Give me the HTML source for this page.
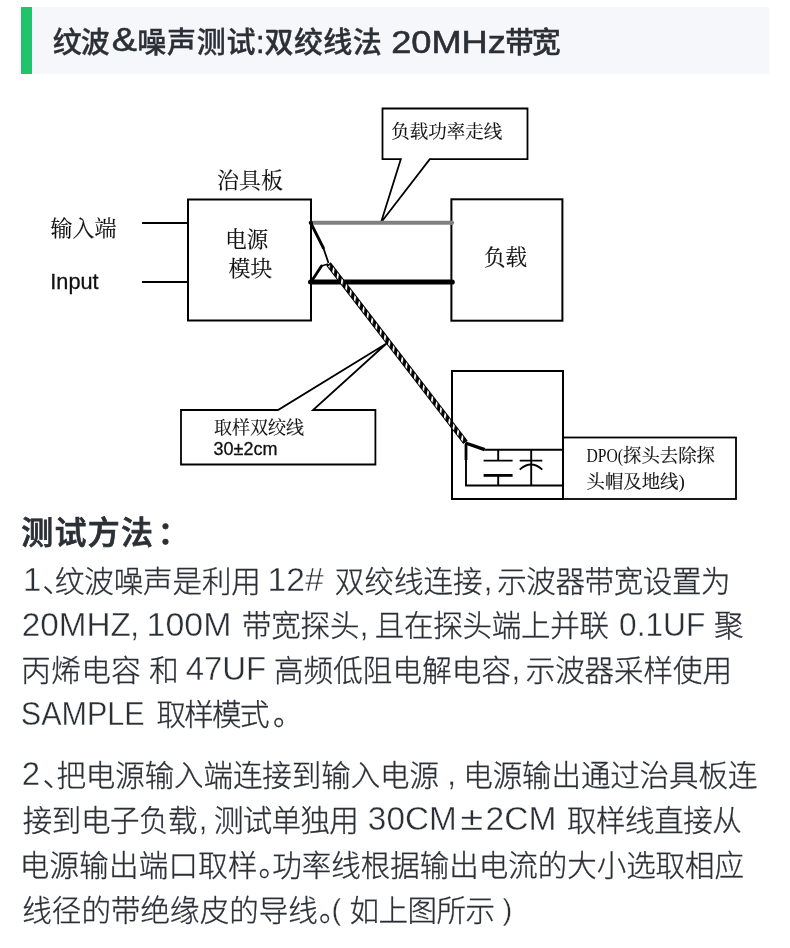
<!DOCTYPE html>
<html lang="zh-CN">
<head>
<meta charset="utf-8">
<title>纹波&amp;噪声测试</title>
<style>
html,body{margin:0;padding:0;background:#fff;}
body{width:790px;height:948px;position:relative;overflow:hidden;font-family:"Liberation Sans","Noto Sans CJK SC",sans-serif;}
#hdr{position:absolute;left:21px;top:6.9px;width:747.7px;height:67.4px;background:#f5f7fa;}
#hdr .bar{position:absolute;left:0;top:0;width:10.6px;height:67.4px;background:#21c46c;}
svg{position:absolute;left:0;top:0;will-change:transform;}
.sg{font-family:"Liberation Serif","Noto Serif CJK SC",serif;fill:#111;font-weight:400;stroke:#111;stroke-width:0.15px;}
.sa{font-family:"Liberation Sans","Noto Sans CJK SC",sans-serif;fill:#111;stroke:#111;stroke-width:0.3px;}
#txt text{font-family:"Liberation Sans","Noto Sans CJK SC",sans-serif;white-space:pre;}
.tt{font-size:29px;font-weight:500;fill:#2b2f36;stroke:#2b2f36;stroke-width:0.35px;}
.tt .l{font-size:30.7px;font-weight:400;stroke:#2b2f36;stroke-width:0.55px;}
.hh{font-size:32px;font-weight:500;fill:#2b2f36;stroke:#2b2f36;stroke-width:0.75px;}
.bb{font-size:29.5px;font-weight:300;fill:#2b2f36;stroke:#2b2f36;stroke-width:0.3px;}
.bb .l{font-size:33px;font-weight:400;stroke:#fff;stroke-width:0.4px;}
.bb .q{font-size:29.5px;}
.tt .amp{font-size:33px;}
</style>
</head>
<body>
<div id="hdr"><div class="bar"></div></div>
<svg id="dia" width="790" height="948" viewBox="0 0 790 948">
<defs>
<pattern id="rope" patternUnits="userSpaceOnUse" width="5.2" height="10" patternTransform="rotate(10)">
<rect x="0" y="0" width="5.2" height="10" fill="#000"/>
<rect x="0" y="0" width="1.9" height="10" fill="#fff"/>
</pattern>
</defs>
<g fill="none" stroke="#000" stroke-width="2">
<rect x="188" y="199.5" width="123" height="121"/>
<rect x="451.4" y="199.3" width="111" height="121.4"/>
<line x1="142" y1="223" x2="188" y2="223"/>
<line x1="142" y1="282" x2="188" y2="282"/>
<path d="M382.5 108.5 H527.5 V159.2 H429.8 L381 222.5 L400.8 159.2 H382.5 Z" stroke-width="1.8"/>
<path d="M181 410 H278 L386.5 343.5 L313 410 H375.4 V464.5 H181 Z" stroke-width="1.8"/>
<rect x="452" y="371" width="111" height="128"/>
<rect x="563" y="437.5" width="173" height="61.5" stroke-width="1.8"/>
<path d="M484.5 449.7 H563 M466 443 V485.5 H563" stroke-width="1.9"/>
<path d="M498.2 449.7 V460.6 M498.2 475.4 V485.5 M531.2 449.7 V485.5" stroke-width="1.9"/>
<path d="M483.6 460.6 H512.6 M519.7 460.6 H542.3" stroke-width="1.8"/>
<path d="M483.6 475.4 H512.6" stroke-width="2.8"/>
<path d="M519.7 469.6 Q531 459.5 542.3 469.6" stroke-width="1.9"/>
<path d="M466 444 V460" stroke-width="2.8"/>
<path d="M465.5 443 L484.7 449.7" stroke-width="3.4"/>
</g>
<line x1="311" y1="222.8" x2="452" y2="222.8" stroke="#808080" stroke-width="4.1"/>
<line x1="311" y1="282" x2="452" y2="282" stroke="#000" stroke-width="5.2"/>
<circle cx="310.8" cy="222.8" r="2.1" fill="#000"/>
<circle cx="310.5" cy="282" r="2.5" fill="#000"/>
<circle cx="452.2" cy="282" r="2.6" fill="#000"/><circle cx="452.2" cy="222.8" r="2" fill="#808080"/>
<path d="M310.8 223 L323.4 248" stroke="#000" stroke-width="2.8" fill="none" stroke-linecap="round"/>
<path d="M323.4 248 L328.5 263" stroke="#000" stroke-width="1.8" fill="none"/>
<path d="M311 282 L321.5 266" stroke="#000" stroke-width="2.8" fill="none" stroke-linecap="round"/>
<path d="M321.5 266 L328 264" stroke="#000" stroke-width="1.6" fill="none"/>
<line x1="328.5" y1="264" x2="465.5" y2="442.4" stroke="#000" stroke-width="5.6"/>
<line x1="329.5" y1="265.3" x2="464.5" y2="441.1" stroke="url(#rope)" stroke-width="3.6"/>
<text class="sg" x="391.2" y="138.2" font-size="18.5">负载功率走线</text>
<text class="sg" x="217" y="187.8" font-size="22">治具板</text>
<text class="sg" x="50.5" y="235.5" font-size="22">输入端</text>
<text class="sa" x="50.3" y="289.3" font-size="21.7">Input</text>
<text class="sg" x="225.3" y="247" font-size="21.5">电源</text>
<text class="sg" x="228.6" y="276" font-size="21.8">模块</text>
<text class="sg" x="484" y="264.5" font-size="21.5">负载</text>
<text class="sg" x="214" y="433.5" font-size="18">取样双绞线</text>
<text class="sa" x="213.5" y="454.5" font-size="18">30±2cm</text>
<text class="sg" x="586.5" y="461.5" font-size="18.4"><tspan font-family="'Liberation Serif',serif" font-size="19" stroke="none" textLength="36.5" lengthAdjust="spacingAndGlyphs">DPO(</tspan>探头去除探</text>
<text class="sg" x="586.5" y="487.5" font-size="18.4">头帽及地线<tspan font-family="'Liberation Serif',serif" font-size="19" stroke="none">)</tspan></text>
</svg>
<svg id="txt" width="790" height="948" viewBox="0 0 790 948">
<text class="tt"><tspan id="T_0" x="52.78" y="52.60" textLength="56.93" lengthAdjust="spacing">纹波</tspan><tspan id="T_1" x="111.85" y="50.60" class="l amp" textLength="25.12" lengthAdjust="spacingAndGlyphs">&amp;</tspan><tspan id="T_2" x="137.23" y="52.60" textLength="118.41" lengthAdjust="spacing">噪声测试</tspan><tspan id="T_3" x="256.07" y="52.60" class="l">:</tspan><tspan id="T_4" x="264.54" y="52.60" textLength="117.25" lengthAdjust="spacing">双绞线法</tspan><tspan id="T_5" x="391.17" y="52.60" class="l" textLength="114.74" lengthAdjust="spacingAndGlyphs">20MHz</tspan><tspan id="T_6" x="505.00" y="52.60" textLength="55.69" lengthAdjust="spacing">带宽</tspan></text>
<text class="hh"><tspan id="H_0" x="21.28" y="544.00" textLength="131.74" lengthAdjust="spacing">测试方法</tspan><tspan id="H_1" x="157.40" y="544.00">：</tspan></text>
<text class="bb"><tspan id="L0_0" x="22.94" y="591.00" class="l">1</tspan><tspan id="L0_1" x="42.39" y="591.60">、</tspan><tspan id="L0_2" x="54.89" y="591.60" textLength="205.93" lengthAdjust="spacing">纹波噪声是利用</tspan><tspan id="L0_3" x="267.46" y="591.00" class="l" textLength="56.18" lengthAdjust="spacingAndGlyphs">12#</tspan><tspan id="L0_4" x="334.85" y="591.60" textLength="147.67" lengthAdjust="spacing">双绞线连接</tspan><tspan id="L0_5" x="483.59" y="591.00" class="l">,</tspan><tspan id="L0_6" x="497.19" y="591.60" textLength="233.36" lengthAdjust="spacing">示波器带宽设置为</tspan></text>
<text class="bb"><tspan id="L1_0" x="21.77" y="635.60" class="l" textLength="109.21" lengthAdjust="spacingAndGlyphs">20MHZ</tspan><tspan id="L1_1" x="129.95" y="635.60" class="l">,</tspan><tspan id="L1_2" x="146.57" y="635.60" class="l" textLength="84.99" lengthAdjust="spacingAndGlyphs">100M</tspan><tspan id="L1_3" x="242.00" y="636.20" textLength="117.40" lengthAdjust="spacing">带宽探头</tspan><tspan id="L1_4" x="359.40" y="635.60" class="l">,</tspan><tspan id="L1_5" x="374.66" y="636.20" textLength="234.44" lengthAdjust="spacing">且在探头端上并联</tspan><tspan id="L1_6" x="619.07" y="635.60" class="l" textLength="86.30" lengthAdjust="spacingAndGlyphs">0.1UF</tspan><tspan id="L1_7" x="713.88" y="636.20">聚</tspan></text>
<text class="bb"><tspan id="L2_0" x="21.14" y="680.80" textLength="119.54" lengthAdjust="spacing">丙烯电容</tspan><tspan id="L2_1" x="149.34" y="680.80">和</tspan><tspan id="L2_2" x="185.63" y="680.20" class="l" textLength="80.48" lengthAdjust="spacingAndGlyphs">47UF</tspan><tspan id="L2_3" x="273.89" y="680.80" textLength="237.05" lengthAdjust="spacing">高频低阻电解电容</tspan><tspan id="L2_4" x="511.24" y="680.20" class="l">,</tspan><tspan id="L2_5" x="525.67" y="680.80" textLength="206.28" lengthAdjust="spacing">示波器采样使用</tspan></text>
<text class="bb"><tspan id="L3_0" x="20.81" y="724.80" class="l" textLength="123.94" lengthAdjust="spacingAndGlyphs">SAMPLE</tspan><tspan id="L3_1" x="156.38" y="725.40" textLength="113.03" lengthAdjust="spacing">取样模式</tspan><tspan id="L3_2" x="273.00" y="725.40">。</tspan></text>
<text class="bb"><tspan id="L4_0" x="21.80" y="785.40" class="l">2</tspan><tspan id="L4_1" x="42.69" y="786.00">、</tspan><tspan id="L4_2" x="56.42" y="786.00" textLength="382.58" lengthAdjust="spacing">把电源输入端连接到输入电源</tspan><tspan id="L4_3" x="446.95" y="785.40" class="l">,</tspan><tspan id="L4_4" x="463.30" y="786.00" textLength="294.11" lengthAdjust="spacing">电源输出通过治具板连</tspan></text>
<text class="bb"><tspan id="L5_0" x="22.84" y="830.60" textLength="174.65" lengthAdjust="spacing">接到电子负载</tspan><tspan id="L5_1" x="198.40" y="830.00" class="l">,</tspan><tspan id="L5_2" x="214.00" y="830.60" textLength="144.69" lengthAdjust="spacing">测试单独用</tspan><tspan id="L5_3" x="367.88" y="830.00" class="l" textLength="88.87" lengthAdjust="spacingAndGlyphs">30CM</tspan><tspan id="L5_4" x="460.19" y="830.00" class="l" textLength="23.02" lengthAdjust="spacingAndGlyphs">±</tspan><tspan id="L5_5" x="485.48" y="830.00" class="l" textLength="70.92" lengthAdjust="spacingAndGlyphs">2CM</tspan><tspan id="L5_6" x="567.00" y="830.60" textLength="174.73" lengthAdjust="spacing">取样线直接从</tspan></text>
<text class="bb"><tspan id="L6_0" x="19.83" y="876.10" textLength="237.62" lengthAdjust="spacing">电源输出端口取样</tspan><tspan id="L6_1" x="258.47" y="876.10">。</tspan><tspan id="L6_2" x="272.18" y="876.10" textLength="471.95" lengthAdjust="spacing">功率线根据输出电流的大小选取相应</tspan></text>
<text class="bb"><tspan id="L7_0" x="22.28" y="920.60" textLength="295.58" lengthAdjust="spacing">线径的带绝缘皮的导线</tspan><tspan id="L7_1" x="319.00" y="920.60">。</tspan><tspan id="L7_2" x="331.58" y="920.00" class="l q">(</tspan><tspan id="L7_3" x="349.51" y="920.60" textLength="145.47" lengthAdjust="spacing">如上图所示</tspan><tspan id="L7_4" x="502.43" y="920.00" class="l q">)</tspan></text>
</svg>
</body>
</html>
